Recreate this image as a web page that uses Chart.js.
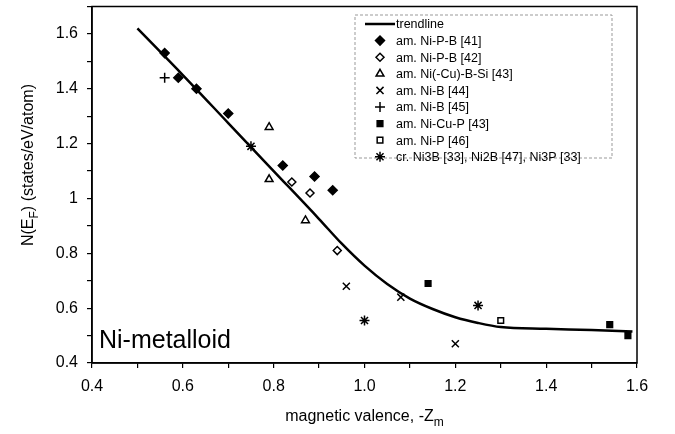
<!DOCTYPE html>
<html>
<head>
<meta charset="utf-8">
<script src="https://cdn.jsdelivr.net/npm/chart.js@4"></script>
<style>
  html, body { margin: 0; padding: 0; background: #fff; }
  #wrap { width: 675px; height: 434px; }
</style>
</head>
<body>
<div id="wrap"><canvas id="chart" width="675" height="434"></canvas></div>
<script>
// Data
const trendX = [0.5, 0.6, 0.7, 0.8, 0.9, 0.95, 1.0, 1.05, 1.1, 1.15, 1.2, 1.25, 1.3, 1.4, 1.5, 1.59];
const trendY = [1.62, 1.45, 1.275, 1.1, 0.925, 0.835, 0.755, 0.688, 0.635, 0.597, 0.567, 0.546, 0.531, 0.525, 0.52, 0.515];

const niPB41X = [0.56, 0.59, 0.63, 0.70, 0.82, 0.89, 0.93];
const niPB41Y = [1.53, 1.44, 1.40, 1.31, 1.12, 1.08, 1.03];
const niPB42X = [0.84, 0.88, 0.94];
const niPB42Y = [1.06, 1.02, 0.81];
const niCuBSi43X = [0.79, 0.79, 0.87];
const niCuBSi43Y = [1.26, 1.07, 0.92];
const niB44X = [0.96, 1.08, 1.20];
const niB44Y = [0.68, 0.64, 0.47];
const niB45X = [0.56];
const niB45Y = [1.44];
const niCuP43X = [1.14, 1.54, 1.58];
const niCuP43Y = [0.69, 0.54, 0.50];
const niP46X = [1.30];
const niP46Y = [0.555];
const crystX = [0.75, 1.00, 1.25];
const crystY = [1.19, 0.555, 0.61];

const xTicks = ["0.4", "0.6", "0.8", "1.0", "1.2", "1.4", "1.6"];
const yTicks = ["0.4", "0.6", "0.8", "1", "1.2", "1.4", "1.6"];

const FONT = "'Liberation Sans', Arial, sans-serif";

const toPoints = (xs, ys) => xs.map((x, i) => ({ x, y: ys[i] }));

const markerSet = (label, xs, ys, style, filled, radius) => ({
  label,
  data: toPoints(xs, ys),
  pointStyle: style,
  pointRadius: radius || 4,
  pointBorderWidth: 1.5,
  pointBackgroundColor: filled ? "#000" : "#fff",
  pointBorderColor: "#000",
  showLine: false,
});

const datasets = [
  {
    label: "trendline",
    data: toPoints(trendX, trendY),
    showLine: true,
    borderColor: "#000",
    borderWidth: 2.5,
    pointRadius: 0,
    cubicInterpolationMode: "monotone",
    fill: false,
  },
  markerSet("am. Ni-P-B [41]", niPB41X, niPB41Y, "rectRot", true, 4.5),
  markerSet("am. Ni-P-B [42]", niPB42X, niPB42Y, "rectRot", false, 4),
  markerSet("am. Ni(-Cu)-B-Si [43]", niCuBSi43X, niCuBSi43Y, "triangle", false, 4.5),
  markerSet("am. Ni-B [44]", niB44X, niB44Y, "crossRot", false, 5),
  markerSet("am. Ni-B [45]", niB45X, niB45Y, "cross", false, 5),
  markerSet("am. Ni-Cu-P [43]", niCuP43X, niCuP43Y, "rect", true, 4),
  markerSet("am. Ni-P [46]", niP46X, niP46Y, "rect", false, 4),
  markerSet("cr. Ni3B [33], Ni2B [47], Ni3P [33]", crystX, crystY, "star", false, 5),
];

// frame, legend box, axis titles and the panel tag
const decorations = {
  id: "decorations",
  afterDraw(chart) {
    const { ctx, chartArea: a } = chart;
    ctx.save();
    ctx.strokeStyle = "#000";
    ctx.lineWidth = 1.5;
    ctx.strokeRect(a.left, a.top, a.right - a.left, a.bottom - a.top);

    // legend
    const lx = 355, ly = 15, lw = 257, lh = 143, step = 16.6;
    ctx.setLineDash([3, 2]);
    ctx.lineWidth = 1;
    ctx.strokeStyle = "#999";
    ctx.strokeRect(lx, ly, lw, lh);
    ctx.setLineDash([]);
    ctx.fillStyle = "#000";
    ctx.font = "12.5px " + FONT;
    ctx.textBaseline = "middle";
    ctx.textAlign = "left";
    chart.data.datasets.forEach((ds, i) => {
      const y = ly + 9 + i * step;
      if (i === 0) {
        ctx.strokeStyle = "#000";
        ctx.lineWidth = 2.5;
        ctx.beginPath();
        ctx.moveTo(365, y);
        ctx.lineTo(395, y);
        ctx.stroke();
      } else {
        ctx.strokeStyle = "#000";
        ctx.fillStyle = ds.pointBackgroundColor;
        ctx.lineWidth = 1.5;
        Chart.helpers.drawPoint(ctx, {
          pointStyle: ds.pointStyle,
          radius: ds.pointRadius,
          borderWidth: 1.5,
        }, 380, y);
      }
      ctx.fillStyle = "#000";
      ctx.fillText(ds.label, 396, y + 1);
    });

    // panel tag
    ctx.font = "25px " + FONT;
    ctx.textBaseline = "alphabetic";
    ctx.fillText("Ni-metalloid", 99, 348);

    // x title with subscript
    ctx.font = "16px " + FONT;
    const xt = "magnetic valence, -Z";
    const w1 = ctx.measureText(xt).width;
    ctx.font = "12px " + FONT;
    const w2 = ctx.measureText("m").width;
    let sx = (a.left + a.right) / 2 - (w1 + w2) / 2;
    ctx.font = "16px " + FONT;
    ctx.fillText(xt, sx, 421);
    ctx.font = "12px " + FONT;
    ctx.fillText("m", sx + w1, 426);

    // y title with subscript, rotated
    ctx.translate(33, 165);
    ctx.rotate(-Math.PI / 2);
    const parts = [["N(E", 16, 0], ["F", 12, 5], [") (states/eV/atom)", 16, 0]];
    let total = 0;
    parts.forEach(([t, s]) => { ctx.font = s + "px " + FONT; total += ctx.measureText(t).width; });
    let px = -total / 2;
    parts.forEach(([t, s, dy]) => {
      ctx.font = s + "px " + FONT;
      ctx.fillText(t, px, dy);
      px += ctx.measureText(t).width;
    });
    ctx.restore();
  },
};

const tickGrid = {
  display: true,
  drawOnChartArea: false,
  drawTicks: true,
  tickLength: 5,
  color: "#000",
  lineWidth: 1.2,
};

new Chart(document.getElementById("chart"), {
  type: "scatter",
  data: { datasets },
  options: {
    responsive: false,
    animation: false,
    layout: { padding: { left: 0, right: 38, top: 3, bottom: 0 } },
    plugins: { legend: { display: false }, tooltip: { enabled: false } },
    scales: {
      x: {
        type: "linear",
        min: 0.4,
        max: 1.6,
        grid: tickGrid,
        border: { display: true, color: "#000", width: 1.5 },
        ticks: {
          stepSize: 0.1,
          color: "#000",
          padding: 9,
          maxRotation: 0,
          autoSkip: false,
          font: { family: FONT, size: 16 },
          callback: (v) => {
            const k = Math.round(v * 10);
            return k % 2 === 0 ? xTicks[(k - 4) / 2] : "";
          },
        },
        afterFit: (s) => { s.height = 71; s.paddingLeft = 0; s.paddingRight = 0; },
      },
      y: {
        type: "linear",
        min: 0.4,
        max: 1.7,
        grid: tickGrid,
        border: { display: true, color: "#000", width: 1.5 },
        ticks: {
          stepSize: 0.1,
          color: "#000",
          padding: 9,
          autoSkip: false,
          font: { family: FONT, size: 16 },
          callback: (v) => {
            const k = Math.round(v * 10);
            return k % 2 === 0 && k <= 16 ? yTicks[(k - 4) / 2] : "";
          },
        },
        afterFit: (s) => { s.width = 92; s.paddingTop = 0; s.paddingBottom = 0; },
      },
    },
  },
  plugins: [decorations],
});
</script>
</body>
</html>
